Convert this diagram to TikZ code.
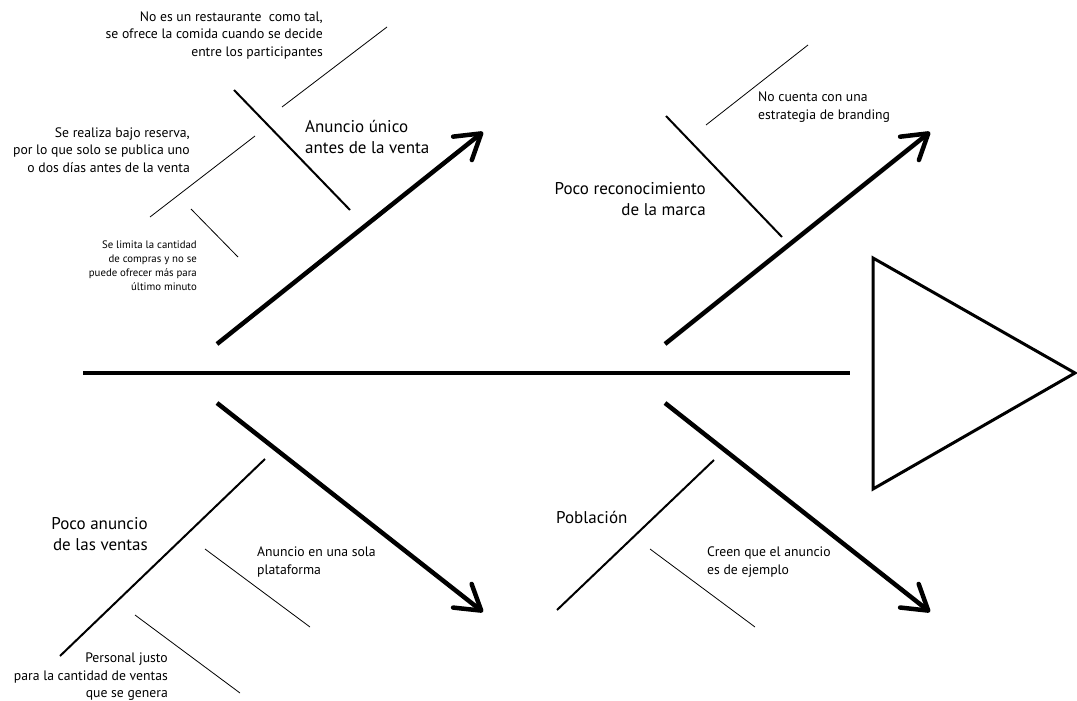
\documentclass[tikz,border=0pt]{standalone}
\usepackage{fontspec}
\setmainfont{PT Sans}
\usetikzlibrary{arrows.meta}
\begin{document}
\begin{tikzpicture}[x=1pt, y=-1pt,
		spine/.style={line width=3.5pt},
		rib/.style={line width=4.5pt, -{Straight Barb[length=24pt, width=30pt, round]}},
		bone/.style={line width=2pt},
		twig/.style={line width=0.8pt},
		cause/.style={inner sep=0pt, font=\fontsize{17}{20.5}\selectfont},
		note/.style={inner sep=0pt, font=\fontsize{13.7}{17.5}\selectfont},
		small/.style={inner sep=0pt, font=\fontsize{10.8}{14}\selectfont}]
		\useasboundingbox (0,0) rectangle (1077,701);
		
		% espina y cabeza
		\coordinate (tail) at (83,373);
		\coordinate (neck) at (850,373);
		\draw[spine] (tail) -- (neck);
		\draw[line width=3pt, line join=miter] (873,258) -- (1075,373) -- (873,489) -- cycle;
		
		% costillas
		\coordinate (ulA) at (217,344); \coordinate (ulB) at (483,132);
		\coordinate (urA) at (665,344); \coordinate (urB) at (930,132);
		\coordinate (llA) at (217,403); \coordinate (llB) at (483,612);
		\coordinate (lrA) at (665,403); \coordinate (lrB) at (930,612);
		\draw[rib] (ulA) -- (ulB);
		\draw[rib] (urA) -- (urB);
		\draw[rib] (llA) -- (llB);
		\draw[rib] (lrA) -- (lrB);
		
		% arriba izquierda
		\node (anuncio) [cause, anchor=west, align=left] at (305,137) {Anuncio único\\antes de la venta};
		\coordinate (b1a) at (234,90); \coordinate (b1b) at (350,210);
		\draw[bone] (b1a) -- (b1b);
		\coordinate (t1a) at (282,107); \coordinate (t1b) at (387,27);
		\draw[twig] (t1a) -- (t1b);
		\coordinate (t2a) at (150,217); \coordinate (t2b) at (255,136);
		\draw[twig] (t2a) -- (t2b);
		\coordinate (t3a) at (191,209); \coordinate (t3b) at (238,257);
		\draw[twig] (t3a) -- (t3b);
		\node (restaurante) [note, anchor=east, align=right] at (323,35) {No es un restaurante\ \ como tal,\\se ofrece la comida cuando se decide\\entre los participantes};
		\node (reserva) [note, anchor=east, align=right] at (190,150) {Se realiza bajo reserva,\\por lo que solo se publica uno\\o dos días antes de la venta};
		\node (limita) [small, anchor=east, align=right] at (197,266) {Se limita la cantidad\\de compras y no se\\puede ofrecer más para\\último minuto};
		
		% arriba derecha
		\node (marca) [cause, anchor=east, align=right] at (706,199) {Poco reconocimiento\\de la marca};
		\coordinate (b2a) at (666,116); \coordinate (b2b) at (782,237);
		\draw[bone] (b2a) -- (b2b);
		\coordinate (t4a) at (706,125); \coordinate (t4b) at (808,45);
		\draw[twig] (t4a) -- (t4b);
		\node (branding) [note, anchor=west, align=left] at (758,107) {No cuenta con una\\estrategia de branding};
		
		% abajo izquierda
		\node (poco) [cause, anchor=east, align=right] at (148,534) {Poco anuncio\\de las ventas};
		\coordinate (b3a) at (60,656); \coordinate (b3b) at (265,459);
		\draw[bone] (b3a) -- (b3b);
		\coordinate (t5a) at (205,549); \coordinate (t5b) at (310,627);
		\draw[twig] (t5a) -- (t5b);
		\coordinate (t6a) at (135,615); \coordinate (t6b) at (240,693);
		\draw[twig] (t6a) -- (t6b);
		\node (plataforma) [note, anchor=west, align=left] at (257,562) {Anuncio en una sola\\plataforma};
		\node (personal) [note, anchor=east, align=right] at (168,677) {Personal justo\\para la cantidad de ventas\\que se genera};
		
		% abajo derecha
		\node (poblacion) [cause, anchor=west] at (556,517) {Población};
		\coordinate (b4a) at (557,610); \coordinate (b4b) at (714,460);
		\draw[bone] (b4a) -- (b4b);
		\coordinate (t7a) at (650,549); \coordinate (t7b) at (755,627);
		\draw[twig] (t7a) -- (t7b);
		\node (ejemplo) [note, anchor=west, align=left] at (707,562) {Creen que el anuncio\\es de ejemplo};
	\end{tikzpicture}
\end{document}
